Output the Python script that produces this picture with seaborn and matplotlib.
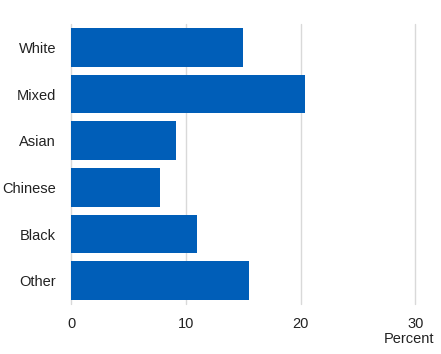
import matplotlib
matplotlib.use("Agg")
import matplotlib.pyplot as plt
import seaborn as sns
import pandas as pd

categories = ["White", "Mixed", "Asian", "Chinese", "Black", "Other"]
values = [15.0, 20.4, 9.1, 7.7, 11.0, 15.5]
xticks = [0, 10, 20, 30]

sns.set_theme(style="white")
plt.rcParams['font.family'] = ['Liberation Sans', 'DejaVu Sans']

df = pd.DataFrame({"cat": categories, "val": values})

fig = plt.figure(figsize=(4.41, 3.54), dpi=100)
ax = fig.add_axes([71.3/441, 1-304/354, (415.3-71.3)/441, 280/354])

sns.barplot(data=df, x="val", y="cat", orient="h", color="#005EB8",
            saturation=1, width=0.83, ax=ax, zorder=3, linewidth=0)

ax.set_xlim(0, 30)
ax.set_ylim(5.5, -0.5)
ax.set_xticks(xticks)
ax.set_xticklabels([str(t) for t in xticks])
ax.grid(axis="x", color="#d9d9d9", linewidth=1, zorder=0)
ax.grid(axis="y", visible=False)
for ln in ax.get_xgridlines():
    ln.set_clip_on(False)
for s in ax.spines.values():
    s.set_visible(False)
ax.tick_params(axis="both", length=0, labelsize=10.5, colors="#222222")
ax.tick_params(axis="y", pad=11)
ax.tick_params(axis="x", pad=9)
ax.set_ylabel("")
ax.set_xlabel("")
fig.text(434/441, 1-339/354, "Percent", ha="right", va="center",
         fontsize=10.5, color="#222222")

fig.savefig("out.png", dpi=100)
